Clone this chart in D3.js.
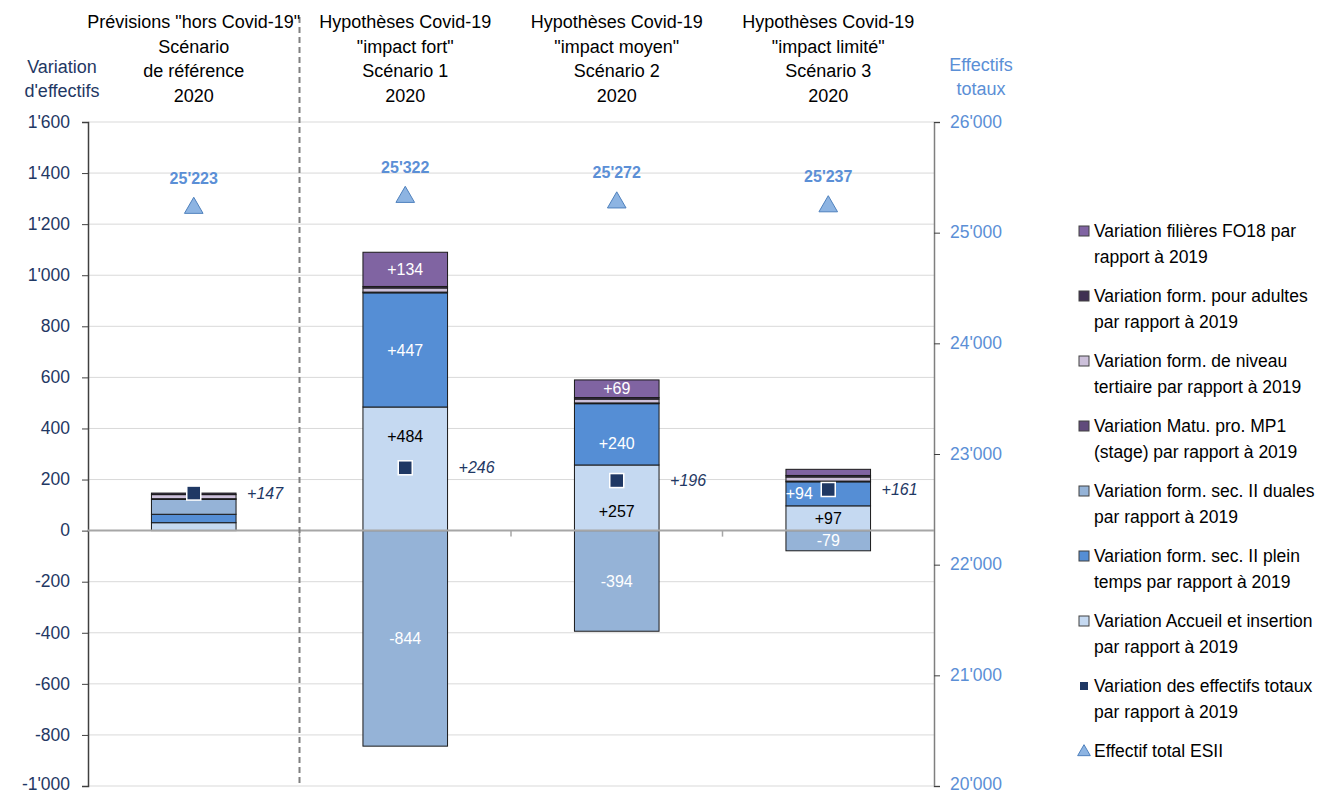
<!DOCTYPE html>
<html>
<head>
<meta charset="utf-8">
<script src="https://cdn.jsdelivr.net/npm/d3@7"></script>
<style>
    body { margin: 0; background: #fff; }
    svg text { font-family: 'Liberation Sans Narrow', 'Arial Narrow', 'Liberation Sans', Arial, sans-serif; }
</style>
</head>
<body>
<svg id="chart" width="1326" height="794"></svg>
<script>
// Categories (scenarios) and header lines
const categories = ['ref', 's1', 's2', 's3'];
const headers = [
    ['Prévisions "hors Covid-19"', 'Scénario', 'de référence', '2020'],
    ['Hypothèses Covid-19', '"impact fort"', 'Scénario 1', '2020'],
    ['Hypothèses Covid-19', '"impact moyen"', 'Scénario 2', '2020'],
    ['Hypothèses Covid-19', '"impact limité"', 'Scénario 3', '2020']
];

// Stacked series, bottom to top
const accueil    = [31, 484, 257, 97];
const pleinTemps = [33, 447, 240, 94];
const duales     = [58, -844, -394, -79];
const mp1        = [3, 3, 3, 3];
const tertiaire  = [16, 16, 15, 16];
const adultes    = [6, 6, 6, 6];
const fo18       = [0, 134, 69, 24];

// Totals
const variationTotale = [147, 246, 196, 161];
const effectifTotal = [25223, 25322, 25272, 25237];

// Axis ticks
const leftTicks = [-1000, -800, -600, -400, -200, 0, 200, 400, 600, 800, 1000, 1200, 1400, 1600];
const rightTicks = [20000, 21000, 22000, 23000, 24000, 25000, 26000];

const seriesValues = [accueil, pleinTemps, duales, mp1, tertiaire, adultes, fo18];
const seriesColors = ['#C5D9F1', '#558ED5', '#95B3D7', '#604A7B', '#CCC0DA', '#403152', '#8064A2'];
const labelColors = ['#000', '#fff', '#fff', '#fff', '#000', '#fff', '#fff'];
const showLabels = [false, true, true, true];
// manual label moves (like in the original Excel chart): key = series_category
const labelNudge = { '0_1': [0, -32], '0_2': [0, 14], '1_2': [0, 9], '1_3': [-29, 0] };

const fmt = d3.formatLocale({ decimal: '.', thousands: "'", grouping: [3], currency: ['', ''], minus: '-' }).format(',');
const fmtSigned = v => (v > 0 ? '+' : '') + fmt(v);

const svg = d3.select('#chart');
const plotLeft = 88, plotRight = 934, plotTop = 122, plotBottom = 786;

const x = d3.scaleBand().domain(categories).range([plotLeft, plotRight]).paddingInner(0.6).paddingOuter(0.3);
const y = d3.scaleLinear().domain([-1000, 1600]).range([plotBottom, plotTop]);
const y2 = d3.scaleLinear().domain([20000, 26000]).range([plotBottom, plotTop]);

// Gridlines
svg.append('g').selectAll('line').data(leftTicks.filter(d => d !== 0)).enter().append('line')
    .attr('x1', plotLeft).attr('x2', plotRight)
    .attr('y1', d => y(d)).attr('y2', d => y(d))
    .attr('stroke', '#D9D9D9').attr('stroke-width', 1);

// Left axis
const leftAxis = svg.append('g').attr('transform', `translate(${plotLeft},0)`)
    .call(d3.axisLeft(y).tickValues(leftTicks).tickFormat(fmt).tickSize(6).tickPadding(12));
leftAxis.select('.domain').attr('stroke', '#404040').attr('stroke-width', 1.5);
leftAxis.selectAll('.tick line').attr('stroke', '#404040');
leftAxis.selectAll('text').attr('fill', '#1F3864').attr('font-size', 17.5)
    .attr('dy', d => d === -1000 ? '0.2em' : '0.3em');

// Right axis
const rightAxis = svg.append('g').attr('transform', `translate(${plotRight},0)`)
    .call(d3.axisRight(y2).tickValues(rightTicks).tickFormat(fmt).tickSize(6).tickPadding(10));
rightAxis.select('.domain').attr('stroke', '#7F7F7F').attr('stroke-width', 1.5);
rightAxis.selectAll('.tick line').attr('stroke', '#404040');
rightAxis.selectAll('text').attr('fill', '#5B8FD6').attr('font-size', 17.5)
    .attr('dy', d => d === 20000 ? '0.2em' : '0.3em');

// Stacked bars (positive and negative stacks)
const stackData = categories.map((c, i) => {
    const row = { cat: c };
    seriesValues.forEach((s, k) => { row['s' + k] = s[i]; });
    return row;
});
const stack = d3.stack().keys(seriesValues.map((s, k) => 's' + k)).offset(d3.stackOffsetDiverging);
const layers = stack(stackData);

const barG = svg.append('g');
layers.forEach((layer, k) => {
    barG.selectAll('.seg' + k).data(layer.filter(d => d[1] !== d[0])).enter().append('rect')
        .attr('x', d => x(d.data.cat))
        .attr('width', x.bandwidth())
        .attr('y', d => y(d[1]))
        .attr('height', d => y(d[0]) - y(d[1]))
        .attr('fill', seriesColors[k])
        .attr('stroke', '#1a1a1a')
        .attr('stroke-width', 1);
});

// Zero line
svg.append('line').attr('x1', plotLeft).attr('x2', plotRight).attr('y1', y(0)).attr('y2', y(0))
    .attr('stroke', '#A6A6A6').attr('stroke-width', 2);
// small category ticks on zero line
svg.append('g').selectAll('line').data(categories.slice(1)).enter().append('line')
    .attr('x1', d => x(d) - x.step() * x.paddingInner() / 2)
    .attr('x2', d => x(d) - x.step() * x.paddingInner() / 2)
    .attr('y1', y(0)).attr('y2', y(0) + 6)
    .attr('stroke', '#A6A6A6').attr('stroke-width', 1.5);

// Dashed separator between reference and Covid scenarios
const sepX = x('s1') - x.step() * x.paddingInner() / 2;
svg.append('line').attr('x1', sepX).attr('x2', sepX).attr('y1', 17).attr('y2', plotBottom)
    .attr('stroke', '#808080').attr('stroke-width', 2).attr('stroke-dasharray', '6,4');

// Segment labels
layers.forEach((layer, k) => {
    layer.forEach((d, i) => {
        const v = d.data['s' + k];
        if (!showLabels[i] || Math.abs(v) < 60) return;
        const nudge = labelNudge[k + '_' + i] || [0, 0];
        svg.append('text')
            .attr('x', x(d.data.cat) + x.bandwidth() / 2 + nudge[0])
            .attr('y', (y(d[0]) + y(d[1])) / 2 + nudge[1])
            .attr('dy', '0.35em')
            .attr('text-anchor', 'middle')
            .attr('font-size', 16)
            .attr('fill', labelColors[k])
            .text(fmtSigned(v));
    });
});

// Total variation markers
svg.append('g').selectAll('rect').data(variationTotale).enter().append('rect')
    .attr('x', (d, i) => x(categories[i]) + x.bandwidth() / 2 - 7)
    .attr('y', d => y(d) - 7)
    .attr('width', 14).attr('height', 14)
    .attr('fill', '#1F3864').attr('stroke', '#fff').attr('stroke-width', 1.5);
svg.append('g').selectAll('text').data(variationTotale).enter().append('text')
    .attr('x', (d, i) => x(categories[i]) + x.bandwidth() + 11)
    .attr('y', d => y(d))
    .attr('dy', '0.35em')
    .attr('font-size', 16).attr('font-style', 'italic').attr('fill', '#1F3864')
    .text(fmtSigned);

// Effectif total triangles
const tri = d3.symbol().type(d3.symbolTriangle).size(150);
svg.append('g').selectAll('path').data(effectifTotal).enter().append('path')
    .attr('d', tri)
    .attr('transform', (d, i) => `translate(${x(categories[i]) + x.bandwidth() / 2},${y2(d)})`)
    .attr('fill', '#8DB4E2').attr('stroke', '#4F81BD').attr('stroke-width', 1);
svg.append('g').selectAll('text').data(effectifTotal).enter().append('text')
    .attr('x', (d, i) => x(categories[i]) + x.bandwidth() / 2)
    .attr('y', d => y2(d) - 30)
    .attr('dy', '0.35em')
    .attr('text-anchor', 'middle')
    .attr('font-size', 16).attr('font-weight', 'bold').attr('fill', '#5B8FD6')
    .text(fmt);

// Scenario headers
headers.forEach((lines, i) => {
    lines.forEach((t, j) => {
        svg.append('text')
            .attr('x', x(categories[i]) + x.bandwidth() / 2)
            .attr('y', 22 + j * 24.5)
            .attr('dy', '0.35em')
            .attr('text-anchor', 'middle')
            .attr('font-size', 18).attr('fill', '#000')
            .text(t);
    });
});

// Axis titles
[['Variation', 67], ["d'effectifs", 91]].forEach(([t, ty]) => {
    svg.append('text').attr('x', 62).attr('y', ty).attr('dy', '0.35em')
        .attr('text-anchor', 'middle').attr('font-size', 18).attr('fill', '#1F3864').text(t);
});
[['Effectifs', 65], ['totaux', 89]].forEach(([t, ty]) => {
    svg.append('text').attr('x', 981).attr('y', ty).attr('dy', '0.35em')
        .attr('text-anchor', 'middle').attr('font-size', 18).attr('fill', '#5B8FD6').text(t);
});

// Legend
const legendItems = [
    { lines: ['Variation filières FO18 par', 'rapport à 2019'], color: seriesColors[6], type: 'sq' },
    { lines: ['Variation form. pour adultes', 'par rapport à 2019'], color: seriesColors[5], type: 'sq' },
    { lines: ['Variation form. de niveau', 'tertiaire par rapport à 2019'], color: seriesColors[4], type: 'sq' },
    { lines: ['Variation Matu. pro. MP1', '(stage) par rapport à 2019'], color: seriesColors[3], type: 'sq' },
    { lines: ['Variation form. sec. II duales', 'par rapport à 2019'], color: seriesColors[2], type: 'sq' },
    { lines: ['Variation form. sec. II plein', 'temps par rapport à 2019'], color: seriesColors[1], type: 'sq' },
    { lines: ['Variation Accueil et insertion', 'par rapport à 2019'], color: seriesColors[0], type: 'sq' },
    { lines: ['Variation des effectifs totaux', 'par rapport à 2019'], color: '#1F3864', type: 'marker' },
    { lines: ['Effectif total ESII'], color: '#8DB4E2', type: 'tri' }
];
const legend = svg.append('g');
legendItems.forEach((it, i) => {
    const ly = 231 + i * 65;
    if (it.type === 'sq') {
        legend.append('rect').attr('x', 1079).attr('y', ly - 5).attr('width', 10).attr('height', 10)
            .attr('fill', it.color).attr('stroke', '#404040').attr('stroke-width', 1);
    } else if (it.type === 'marker') {
        legend.append('rect').attr('x', 1080).attr('y', ly - 4).attr('width', 8).attr('height', 8)
            .attr('fill', it.color);
    } else {
        legend.append('path').attr('d', d3.symbol().type(d3.symbolTriangle).size(70))
            .attr('transform', `translate(1084,${ly + 1})`)
            .attr('fill', it.color).attr('stroke', '#4F81BD').attr('stroke-width', 1);
    }
    it.lines.forEach((t, j) => {
        legend.append('text').attr('x', 1094).attr('y', ly + j * 25.5).attr('dy', '0.35em')
            .attr('font-size', 17.5).attr('fill', '#000').text(t);
    });
});
</script>
</body>
</html>
